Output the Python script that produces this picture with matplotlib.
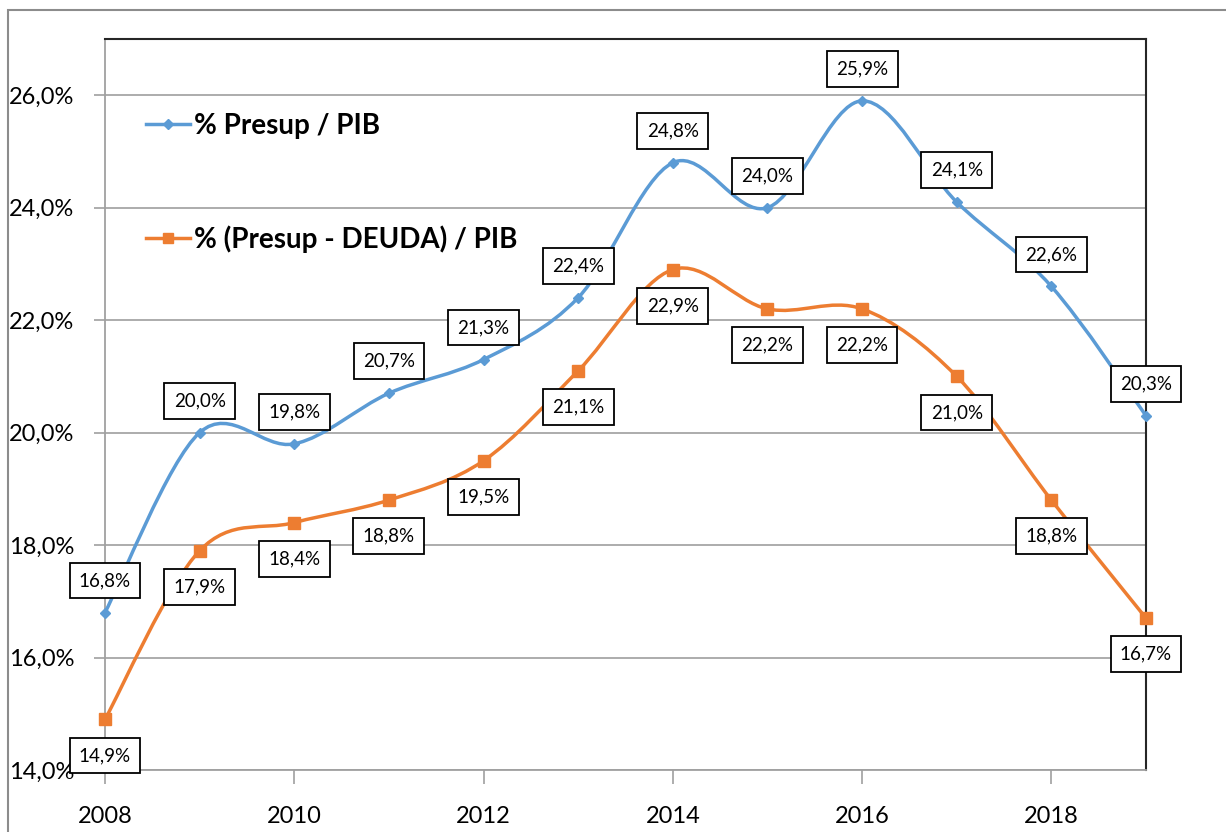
import matplotlib
matplotlib.use("Agg")
import matplotlib.pyplot as plt
from matplotlib.path import Path
from matplotlib.patches import PathPatch, Rectangle
from matplotlib.lines import Line2D

plt.rcParams['font.family'] = ['Lato', 'DejaVu Sans']

# Data
years = [2008, 2009, 2010, 2011, 2012, 2013, 2014, 2015, 2016, 2017, 2018, 2019]
presup_pib = [16.8, 20.0, 19.8, 20.7, 21.3, 22.4, 24.8, 24.0, 25.9, 24.1, 22.6, 20.3]
presup_deuda_pib = [14.9, 17.9, 18.4, 18.8, 19.5, 21.1, 22.9, 22.2, 22.2, 21.0, 18.8, 16.7]
y_ticks = [14, 16, 18, 20, 22, 24, 26]
x_ticks = [2008, 2010, 2012, 2014, 2016, 2018]

BLUE = '#5B9BD5'
ORANGE = '#ED7D31'


# Excel-style smoothed line: cubic Bezier through each pair of points
def smooth_path(xs, ys):
    pts = list(zip(xs, ys))
    n = len(pts)
    verts = [pts[0]]
    codes = [Path.MOVETO]
    for i in range(n - 1):
        p0 = pts[i - 1] if i > 0 else pts[i]
        p1 = pts[i]
        p2 = pts[i + 1]
        p3 = pts[i + 2] if i + 2 < n else pts[i + 1]
        c1 = (p1[0] + (p2[0] - p0[0]) / 6, p1[1] + (p2[1] - p0[1]) / 6)
        c2 = (p2[0] - (p3[0] - p1[0]) / 6, p2[1] - (p3[1] - p1[1]) / 6)
        verts += [c1, c2, p2]
        codes += [Path.CURVE4] * 3
    return Path(verts, codes)


fig = plt.figure(figsize=(12.26, 8.32), dpi=100)
W, H = 1226, 832
ax = fig.add_axes([105 / W, 1 - 770 / H, (1146 - 105) / W, (770 - 39) / H])

# outer chart border
fig.patches.append(Rectangle((8 / W, -0.1), 1.2, 1 - 10 / H + 0.1, transform=fig.transFigure,
                             fill=False, edgecolor='#8c8c8c', linewidth=1.5))

ax.set_xlim(2008, 2019)
ax.set_ylim(14, 27)

ax.set_yticks(y_ticks)
ax.set_yticklabels([f"{v:.1f}%".replace('.', ',') for v in y_ticks])
ax.set_xticks(x_ticks)
ax.set_xticklabels([str(v) for v in x_ticks])
ax.tick_params(axis='y', length=8, color='#a0a0a0', width=1.2, labelsize=17, pad=14)
ax.tick_params(axis='x', length=10, color='#a0a0a0', width=1.2, labelsize=17, pad=16)
ax.yaxis.grid(True, color='#a6a6a6', linewidth=1.3)
ax.set_axisbelow(True)

for side in ['left', 'bottom']:
    ax.spines[side].set_color('#a0a0a0')
    ax.spines[side].set_linewidth(1.3)
for side in ['top', 'right']:
    ax.spines[side].set_color('#262626')
    ax.spines[side].set_linewidth(1.5)

for ys, col in [(presup_pib, BLUE), (presup_deuda_pib, ORANGE)]:
    ax.add_patch(PathPatch(smooth_path(years, ys), fill=False, edgecolor=col,
                           linewidth=2.5, zorder=3, clip_on=False))

ax.plot(years, presup_pib, linestyle='none', marker='D', markersize=5.5,
        color=BLUE, zorder=4, clip_on=False)
ax.plot(years, presup_deuda_pib, linestyle='none', marker='s', markersize=8.5,
        color=ORANGE, zorder=4, clip_on=False)

box = dict(boxstyle='square,pad=0.5', facecolor='white', edgecolor='black', linewidth=1.3)
for x, y in zip(years, presup_pib):
    ax.annotate(f"{y:.1f}%".replace('.', ','), (x, y), xytext=(0, 23),
                textcoords='offset points', ha='center', va='center',
                fontsize=13.5, bbox=box, zorder=5, annotation_clip=False)
for x, y in zip(years, presup_deuda_pib):
    ax.annotate(f"{y:.1f}%".replace('.', ','), (x, y), xytext=(0, -26),
                textcoords='offset points', ha='center', va='center',
                fontsize=13.5, bbox=box, zorder=5, annotation_clip=False)

handles = [Line2D([], [], color=BLUE, linewidth=2.5, marker='D', markersize=5),
           Line2D([], [], color=ORANGE, linewidth=2.5, marker='s', markersize=7)]
leg = ax.legend(handles, ['% Presup / PIB', '% (Presup - DEUDA) / PIB'],
                loc='upper left', bbox_to_anchor=(0.015, 0.933), frameon=False,
                prop={'weight': 'bold', 'size': 20}, labelspacing=3.1,
                handlelength=1.6, handletextpad=0.15)

fig.savefig('out.png', dpi=100)
